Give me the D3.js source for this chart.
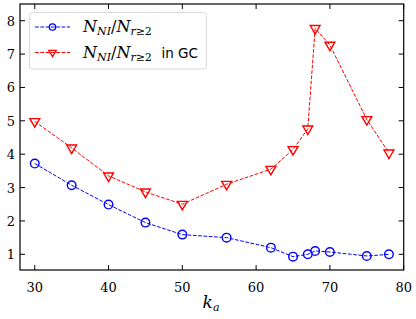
<!doctype html>
<html>
<head>
<meta charset="utf-8">
<style>
  body { margin: 0; background: #fff; }
  svg text { fill: #000; }
</style>
</head>
<body>
<script src="https://cdnjs.cloudflare.com/ajax/libs/d3/7.8.5/d3.min.js"></script>
<script>
// data
var ka = [30, 35, 40, 45, 50, 56, 62, 65, 67, 68, 70, 75, 78];
var ratioAll = [3.72, 3.07, 2.49, 1.95, 1.59, 1.50, 1.20, 0.93, 1.00, 1.10, 1.07, 0.95, 1.00];
var ratioGC = [4.98, 4.19, 3.35, 2.87, 2.50, 3.10, 3.55, 4.14, 4.76, 7.77, 7.27, 5.04, 4.04];
var xTicks = [30, 40, 50, 60, 70, 80];
var yTicks = [1, 2, 3, 4, 5, 6, 7, 8];

var w = 416, h = 319;
var mLeft = 20, mRight = 403.7, mTop = 4, mBottom = 270;
var serif = "'DejaVu Serif', serif";

var x = d3.scaleLinear().domain([28, 80]).range([mLeft, mRight]);
var y = d3.scaleLinear().domain([0.53, 8.5]).range([mBottom, mTop]);

var svg = d3.select("body").append("svg")
  .attr("width", w).attr("height", h);

// ticks pointing inward on all four sides
var tickLen = 5;
svg.append("g").selectAll("line").data(xTicks).enter().append("line")
  .attr("x1", function(d){ return x(d); }).attr("x2", function(d){ return x(d); })
  .attr("y1", mBottom).attr("y2", mBottom - tickLen)
  .attr("stroke", "#000").attr("stroke-width", 1);
svg.append("g").selectAll("line").data(xTicks).enter().append("line")
  .attr("x1", function(d){ return x(d); }).attr("x2", function(d){ return x(d); })
  .attr("y1", mTop).attr("y2", mTop + tickLen)
  .attr("stroke", "#000").attr("stroke-width", 1);
svg.append("g").selectAll("line").data(yTicks).enter().append("line")
  .attr("x1", mLeft).attr("x2", mLeft + tickLen)
  .attr("y1", function(d){ return y(d); }).attr("y2", function(d){ return y(d); })
  .attr("stroke", "#000").attr("stroke-width", 1);
svg.append("g").selectAll("line").data(yTicks).enter().append("line")
  .attr("x1", mRight).attr("x2", mRight - tickLen)
  .attr("y1", function(d){ return y(d); }).attr("y2", function(d){ return y(d); })
  .attr("stroke", "#000").attr("stroke-width", 1);

// tick labels
svg.append("g").selectAll("text").data(xTicks).enter().append("text")
  .attr("x", function(d){ return x(d); }).attr("y", 292)
  .attr("text-anchor", "middle")
  .style("font-family", serif).style("font-size", "13px")
  .text(function(d){ return d; });
svg.append("g").selectAll("text").data(yTicks).enter().append("text")
  .attr("x", mLeft - 5).attr("y", function(d){ return y(d) + 5; })
  .attr("text-anchor", "end")
  .style("font-family", serif).style("font-size", "13px")
  .text(function(d){ return d; });

// frame
svg.append("rect")
  .attr("x", mLeft).attr("y", mTop)
  .attr("width", mRight - mLeft).attr("height", mBottom - mTop)
  .attr("fill", "none").attr("stroke", "#000").attr("stroke-width", 1.2);

// x label
var xl = svg.append("text").attr("x", 211).attr("y", 308)
  .attr("text-anchor", "middle")
  .style("font-family", serif).style("font-style", "italic").style("font-size", "17px");
xl.append("tspan").text("k");
xl.append("tspan").attr("font-size", "11px").attr("dy", 3).text("a");

// series
var tri = d3.symbol().type(d3.symbolTriangle).size(42);

function drawSeries(vals, color, marker) {
  var line = d3.line()
    .x(function(d, i){ return x(ka[i]); })
    .y(function(d){ return y(d); });
  svg.append("path").datum(vals)
    .attr("d", line)
    .attr("fill", "none").attr("stroke", color)
    .attr("stroke-width", 1).attr("stroke-dasharray", "3.7,1.6");
  var g = svg.append("g");
  if (marker == "circle") {
    g.selectAll("circle").data(vals).enter().append("circle")
      .attr("cx", function(d, i){ return x(ka[i]); })
      .attr("cy", function(d){ return y(d); })
      .attr("r", 4.3)
      .attr("fill", "none").attr("stroke", color).attr("stroke-width", 1.4);
  } else {
    g.selectAll("path").data(vals).enter().append("path")
      .attr("d", tri)
      .attr("transform", function(d, i){ return "translate(" + x(ka[i]) + "," + y(d) + ") rotate(180)"; })
      .attr("fill", "none").attr("stroke", color).attr("stroke-width", 1.4);
  }
}
drawSeries(ratioAll, "#0000ff", "circle");
drawSeries(ratioGC, "#ff0000", "triangle");

// legend
var leg = svg.append("g");
leg.append("rect")
  .attr("x", 29.5).attr("y", 12.5).attr("width", 177).attr("height", 56.5)
  .attr("rx", 3).attr("fill", "#fff").attr("fill-opacity", 0.8)
  .attr("stroke", "#d9d9d9").attr("stroke-width", 1);

var legRows = [
  { color: "#0000ff", marker: "circle", y: 27, extra: "" },
  { color: "#ff0000", marker: "triangle", y: 52.5, extra: "in GC" }
];
legRows.forEach(function(r) {
  leg.append("line").attr("x1", 35).attr("x2", 70).attr("y1", r.y).attr("y2", r.y)
    .attr("stroke", r.color).attr("stroke-width", 1).attr("stroke-dasharray", "3.7,1.6");
  if (r.marker == "circle") {
    leg.append("circle").attr("cx", 52.5).attr("cy", r.y).attr("r", 3.2)
      .attr("fill", "none").attr("stroke", r.color).attr("stroke-width", 1.3);
  } else {
    leg.append("path").attr("d", d3.symbol().type(d3.symbolTriangle).size(24))
      .attr("transform", "translate(52.5," + r.y + ") rotate(180)")
      .attr("fill", "none").attr("stroke", r.color).attr("stroke-width", 1.3);
  }
  var t = leg.append("text").attr("x", 83).attr("y", r.y + 5)
    .style("font-family", serif).style("font-size", "16px");
  t.append("tspan").style("font-style", "italic").text("N");
  t.append("tspan").style("font-style", "italic").attr("font-size", "11px").attr("dy", 3).text("NI");
  t.append("tspan").attr("dy", -3).text("/");
  t.append("tspan").style("font-style", "italic").text("N");
  t.append("tspan").attr("font-size", "11px").attr("dy", 3)
    .append("tspan").style("font-style", "italic").text("r");
  t.append("tspan").attr("font-size", "11px").text("≥2");
  if (r.extra) {
    t.append("tspan").attr("x", 161.5).attr("y", r.y + 5)
      .style("font-family", "'DejaVu Sans', sans-serif").style("font-size", "13.5px")
      .text(r.extra);
  }
});
</script>
</body>
</html>
